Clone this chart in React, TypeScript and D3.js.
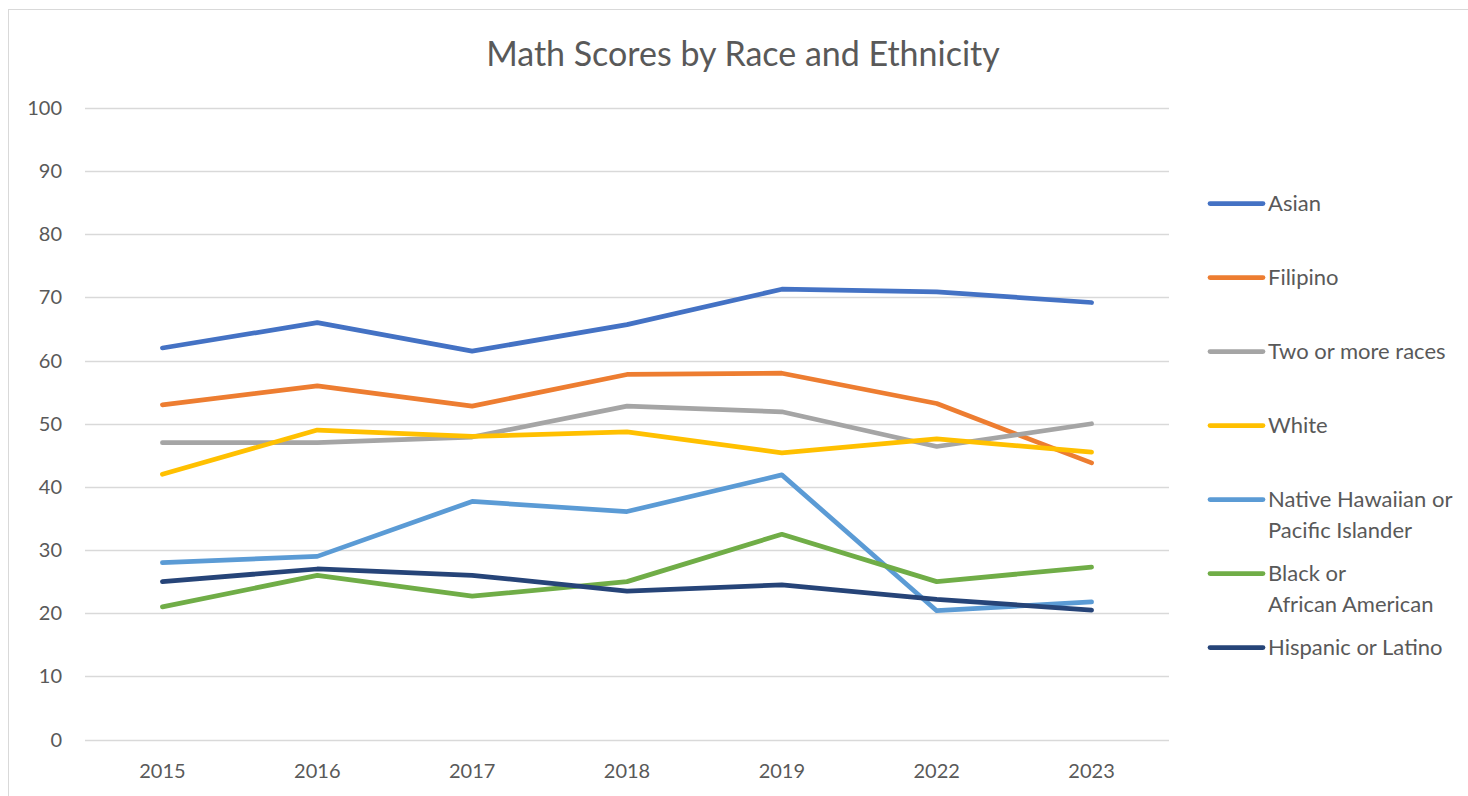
import React from "react";
import * as d3 from "d3";

const years = ["2015", "2016", "2017", "2018", "2019", "2022", "2023"];
const yTicks = [0, 10, 20, 30, 40, 50, 60, 70, 80, 90, 100];

const asian = [62.0, 66.0, 61.5, 65.7, 71.3, 70.9, 69.2];
const filipino = [53.0, 56.0, 52.8, 57.8, 58.0, 53.2, 43.8];
const twoOrMore = [47.0, 47.0, 47.9, 52.8, 51.9, 46.4, 50.0];
const white = [42.0, 49.0, 48.0, 48.7, 45.4, 47.6, 45.5];
const nativeHawaiian = [28.0, 29.0, 37.7, 36.1, 41.9, 20.4, 21.8];
const black = [21.0, 26.0, 22.7, 25.0, 32.5, 25.0, 27.3];
const hispanic = [25.0, 27.0, 26.0, 23.5, 24.5, 22.2, 20.5];

const seriesNames = [
  ["Asian"],
  ["Filipino"],
  ["Two or more races"],
  ["White"],
  ["Native Hawaiian or", "Pacific Islander"],
  ["Black or", "African American"],
  ["Hispanic or Latino"],
];
const seriesValues = [asian, filipino, twoOrMore, white, nativeHawaiian, black, hispanic];
const seriesColors = ["#4472C4", "#ED7D31", "#A5A5A5", "#FFC000", "#5B9BD5", "#70AD47", "#264478"];

const title = "Math Scores by Race and Ethnicity";

const W = 1468;
const H = 796;
const FONT = "Lato, 'Open Sans', sans-serif";
const TXT = "#595959";

export default function App() {
  const x = d3.scaleBand().domain(years).range([85, 1169]);
  const y = d3.scaleLinear().domain([0, 100]).range([739.5, 108]);
  const line = d3
    .line<number>()
    .x((_, i) => (x(years[i]) as number) + x.bandwidth() / 2)
    .y((d) => y(d));

  const legendY = d3.scalePoint().domain(seriesNames.map((_, i) => String(i))).range([203.5, 647.5]);

  return (
    <div style={{ position: "absolute", left: 0, top: 0 }}>
      <svg width={W} height={H} style={{ display: "block", background: "#fff" }}>
        <rect x={8.5} y={9.5} width={1600} height={1000} fill="#fff" stroke="#D9D9D9" strokeWidth={1} />
        <text x={743} y={66} textAnchor="middle" fontFamily={FONT} fontSize={34} fill={TXT}>
          {title}
        </text>
        {yTicks.map((t) => (
          <g key={t}>
            <line x1={85} x2={1169} y1={Math.round(y(t)) + 0.5} y2={Math.round(y(t)) + 0.5} stroke="#D9D9D9" strokeWidth={1.3} />
            <text x={62} y={y(t) + 7} textAnchor="end" fontFamily={FONT} fontSize={20} fill={TXT}>
              {t}
            </text>
          </g>
        ))}
        {years.map((yr) => (
          <text
            key={yr}
            x={(x(yr) as number) + x.bandwidth() / 2}
            y={778}
            textAnchor="middle"
            fontFamily={FONT}
            fontSize={20}
            fill={TXT}
          >
            {yr}
          </text>
        ))}
        {seriesValues.map((vals, i) => (
          <path
            key={i}
            d={line(vals) || ""}
            fill="none"
            stroke={seriesColors[i]}
            strokeWidth={4.75}
            strokeLinecap="round"
            strokeLinejoin="round"
          />
        ))}
        {seriesNames.map((name, i) => {
          const ly = legendY(String(i)) as number;
          return (
            <g key={i}>
              <line x1={1210} x2={1263} y1={ly} y2={ly} stroke={seriesColors[i]} strokeWidth={4.75} strokeLinecap="round" />
              {name.map((ln, j) => (
                <text key={j} x={1268} y={ly + 7.5 + j * 31} fontFamily={FONT} fontSize={22} fill={TXT}>
                  {ln}
                </text>
              ))}
            </g>
          );
        })}
      </svg>
    </div>
  );
}
